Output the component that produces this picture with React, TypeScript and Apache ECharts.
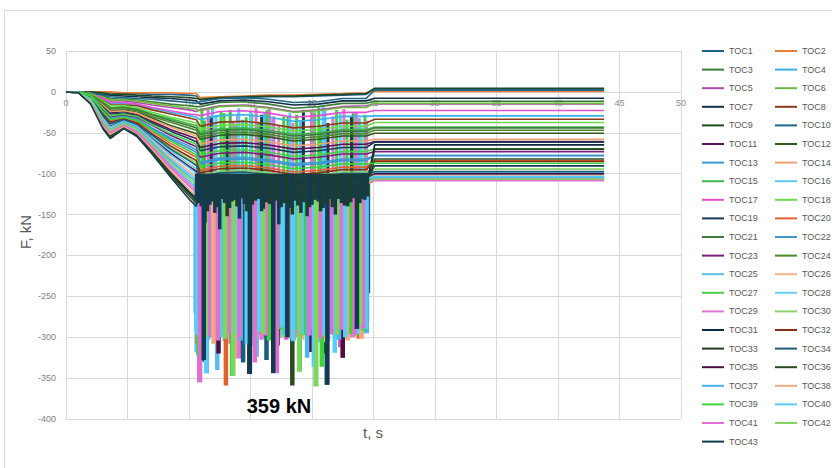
import React, { useEffect, useRef } from "react";
import * as echarts from "echarts";

const seriesNames = [
  "TOC1", "TOC2", "TOC3", "TOC4", "TOC5", "TOC6", "TOC7", "TOC8", "TOC9", "TOC10",
  "TOC11", "TOC12", "TOC13", "TOC14", "TOC15", "TOC16", "TOC17", "TOC18", "TOC19", "TOC20",
  "TOC21", "TOC22", "TOC23", "TOC24", "TOC25", "TOC26", "TOC27", "TOC28", "TOC29", "TOC30",
  "TOC31", "TOC32", "TOC33", "TOC34", "TOC35", "TOC36", "TOC37", "TOC38", "TOC39", "TOC40",
  "TOC41", "TOC42", "TOC43",
];

const seriesColors = [
  "#1f5f8b", "#ed7d31", "#3a7d3a", "#3aaee6", "#b04cb0", "#6fb840", "#12304a", "#8b3a15", "#1d4a22", "#1e6888",
  "#5e1256", "#2d5a1e", "#3c9ad6", "#f0a070", "#3cba48", "#5ccaf4", "#e050d0", "#6adc4a", "#1b3b5a", "#e2622a",
  "#3e7a3e", "#3e96cc", "#7a1e78", "#4a8a2a", "#5abde8", "#f6b08c", "#48d048", "#6ad0f6", "#de78d4", "#8ad46a",
  "#0f2c3e", "#8a2f10", "#1f3d1f", "#1c5c78", "#4a1040", "#2a4a22", "#4ab6e8", "#f4a880", "#3ed23e", "#58cdf8",
  "#e070d0", "#80d460", "#123a50",
];

// time stamps (s)
const rampTimes = [0, 1, 2, 3, 3.6, 4.7, 5.8, 7, 8.5, 10, 10.6];
const plateauTimes = [10.9, 12.5, 14.5, 16.5, 18.5, 20.5, 22.5, 24.4];
const finalTimes = [25.1, 43.75];

// F (kN) during loading ramp, one row per TOC
const rampValues = [
  [0, 0, 0, -1, -1, -2, -2, -3, -3, -4, -5],
  [0, 0, 0, 0, 0, -1, -1, -1, -1, -2, -2],
  [0, 0, -1, -5, -8, -9, -10, -12, -15, -17, -18],
  [0, 0, -2, -9, -14, -14, -16, -20, -25, -29, -31],
  [0, 0, -1, -7, -11, -11, -13, -16, -19, -22, -24],
  [0, 0, -1, -6, -10, -10, -11, -14, -17, -20, -21],
  [0, 0, -1, -3, -4, -5, -6, -7, -8, -10, -11],
  [0, 0, -2, -10, -16, -16, -17, -22, -27, -32, -34],
  [0, 0, 0, -1, -3, -3, -4, -5, -6, -7, -8],
  [0, 0, -1, -4, -6, -7, -8, -9, -11, -13, -14],
  [0, 0, -4, -17, -26, -24, -28, -36, -46, -54, -57],
  [0, 0, -3, -15, -23, -22, -25, -32, -41, -48, -51],
  [0, 0, -5, -22, -31, -29, -33, -44, -56, -66, -71],
  [0, 0, -4, -16, -24, -23, -26, -34, -43, -51, -54],
  [0, 0, -3, -12, -19, -18, -21, -27, -33, -39, -41],
  [0, -1, -9, -34, -45, -38, -45, -61, -82, -100, -107],
  [0, 0, -2, -8, -13, -13, -15, -19, -23, -27, -28],
  [0, 0, -2, -11, -17, -17, -19, -25, -31, -36, -38],
  [0, 0, -4, -19, -27, -26, -29, -38, -48, -57, -61],
  [0, 0, -6, -25, -35, -31, -36, -48, -63, -75, -80],
  [0, 0, -3, -13, -20, -19, -22, -28, -35, -41, -44],
  [0, 0, -5, -23, -33, -30, -34, -45, -58, -69, -74],
  [0, 0, -5, -21, -30, -28, -31, -41, -53, -63, -67],
  [0, 0, -3, -14, -21, -21, -23, -30, -37, -44, -47],
  [0, -1, -10, -37, -48, -40, -48, -66, -89, -109, -117],
  [0, -1, -9, -33, -44, -37, -44, -59, -80, -97, -104],
  [0, 0, -4, -20, -29, -27, -30, -40, -51, -60, -64],
  [0, 0, -7, -30, -41, -35, -40, -55, -72, -88, -94],
  [0, -1, -11, -38, -49, -40, -49, -67, -91, -112, -120],
  [0, 0, -7, -28, -38, -34, -39, -52, -68, -82, -87],
  [0, -1, -12, -42, -53, -42, -52, -72, -98, -122, -130],
  [0, 0, -6, -27, -37, -33, -38, -51, -66, -79, -84],
  [0, -1, -13, -43, -54, -43, -53, -73, -100, -124, -133],
  [0, 0, -7, -29, -39, -34, -40, -53, -70, -84, -90],
  [0, -1, -8, -31, -42, -36, -42, -57, -75, -91, -97],
  [0, -1, -13, -44, -55, -43, -54, -75, -102, -127, -136],
  [0, -1, -10, -35, -46, -38, -45, -62, -84, -103, -110],
  [0, -1, -12, -41, -52, -42, -51, -70, -96, -119, -127],
  [0, 0, -5, -24, -34, -31, -35, -47, -60, -72, -77],
  [0, -1, -8, -32, -43, -36, -42, -58, -77, -93, -100],
  [0, -1, -11, -39, -50, -41, -50, -68, -93, -115, -123],
  [0, -1, -10, -36, -47, -39, -46, -64, -86, -106, -113],
  [0, -1, -15, -45, -57, -45, -55, -76, -104, -131, -140],
];

// F (kN) base level during the oscillating phase
const plateauValues = [
  [-10, -8, -7, -6, -6, -5, -4, -3],
  [-7, -6, -5, -4, -4, -3, -2, -1],
  [-18, -13, -12, -15, -20, -18, -14, -14],
  [-34, -29, -28, -31, -36, -34, -30, -30],
  [-22, -17, -16, -19, -24, -22, -18, -17],
  [-23, -18, -17, -20, -25, -23, -19, -19],
  [-15, -11, -10, -12, -16, -15, -11, -11],
  [-42, -37, -36, -39, -44, -42, -38, -38],
  [-9, -7, -6, -5, -5, -4, -3, -2],
  [-12, -8, -7, -9, -13, -12, -8, -8],
  [-68, -63, -62, -65, -70, -68, -64, -64],
  [-58, -53, -52, -55, -60, -58, -54, -54],
  [-86, -81, -80, -83, -88, -86, -82, -82],
  [-64, -59, -58, -61, -66, -64, -60, -60],
  [-50, -45, -44, -47, -52, -50, -46, -46],
  [-112, -107, -106, -109, -114, -112, -108, -108],
  [-29, -24, -23, -26, -31, -29, -25, -25],
  [-46, -41, -40, -43, -48, -46, -42, -42],
  [-72, -67, -66, -69, -74, -72, -68, -68],
  [-96, -91, -90, -93, -98, -96, -92, -92],
  [-52, -47, -46, -49, -54, -52, -48, -48],
  [-88, -83, -82, -85, -90, -88, -84, -84],
  [-80, -75, -74, -77, -82, -80, -76, -76],
  [-55, -50, -49, -52, -57, -55, -51, -51],
  [-114, -109, -108, -111, -116, -114, -110, -110],
  [-110, -105, -104, -107, -112, -110, -106, -106],
  [-77, -72, -71, -74, -79, -77, -73, -73],
  [-106, -101, -100, -103, -108, -106, -102, -102],
  [-116, -111, -110, -113, -118, -116, -112, -112],
  [-102, -97, -96, -99, -104, -102, -98, -98],
  [-120, -115, -114, -117, -122, -120, -116, -116],
  [-99, -94, -93, -96, -101, -99, -95, -95],
  [-124, -119, -118, -121, -126, -124, -120, -120],
  [-104, -99, -98, -101, -106, -104, -100, -100],
  [-108, -103, -102, -105, -110, -108, -104, -104],
  [-128, -123, -122, -125, -130, -128, -124, -124],
  [-113, -108, -107, -110, -115, -113, -109, -109],
  [-118, -113, -112, -115, -120, -118, -114, -114],
  [-92, -87, -86, -89, -94, -92, -88, -88],
  [-110, -105, -104, -107, -112, -110, -106, -106],
  [-117, -112, -111, -114, -119, -117, -113, -113],
  [-115, -110, -109, -112, -117, -115, -111, -111],
  [-110, -104, -103, -106, -112, -110, -105, -106],
];

// F (kN) residual after unloading
const finalValues = [
  2.8, 0.5, -11.4, -29.3, -14.7, -14, -7.7, -33.4, 4.5, 2.0,
  -60.8, -50.5, -77.6, -57.9, -43, -105, -22.8, -37.5, -61.5, -84.4,
  -44, -78, -73, -47, -106, -103, -69.7, -99, -107, -94.5,
  -64.8, -85, -70, -97.5, -100.3, -82, -104, -108, -87.2, -103.5,
  -108.5, -106.5, -90.5,
];

// downward peaks [t, F] during the oscillating phase
const peaksTOC14 = [[11.02, -290], [12.75, -298], [14.35, -292], [16.15, -300], [17.85, -288], [19.55, -296], [21.35, -290], [23.05, -299], [24.25, -287]];
const peaksTOC15 = [[11.65, -294], [13.45, -290], [15.25, -298], [17.05, -292], [18.65, -295], [20.45, -288], [22.15, -296], [23.75, -291]];
const peaksTOC16 = [[10.62, -318], [11.7, -296], [12.9, -305], [13.8, -288], [15.1, -310], [16.0, -292], [17.3, -301], [18.2, -285], [19.4, -298], [20.7, -306], [21.6, -290], [22.8, -297], [23.9, -283], [24.5, -246]];
const peaksTOC17 = [[10.85, -355], [11.9, -300], [12.6, -292], [13.4, -308], [14.3, -326], [15.6, -297], [16.6, -289], [17.9, -303], [18.8, -294], [19.9, -300], [21.0, -288], [22.3, -312], [23.5, -290], [24.2, -276]];
const peaksTOC20 = [[10.7, -309], [13.0, -359], [16.9, -300], [23.8, -302]];
const peaksTOC25 = [[10.95, -300], [11.45, -344], [12.3, -340], [13.2, -295], [14.0, -302], [14.8, -290], [15.5, -324], [16.4, -296], [17.6, -298], [18.5, -304], [19.7, -293], [20.4, -299], [21.3, -305], [22.1, -291], [23.1, -296], [24.3, -295]];
const peaksTOC26 = [[11.1, -302], [12.1, -291], [13.6, -305], [14.6, -300], [15.8, -294], [17.1, -298], [18.0, -289], [19.2, -303], [20.2, -297], [21.8, -292], [22.6, -300], [23.4, -299], [24.05, -302]];
const peaksTOC27 = [[10.75, -322], [11.8, -299], [12.7, -290], [13.5, -347], [14.5, -296], [15.3, -287], [16.2, -300], [17.4, -293], [18.9, -296], [19.0, -342], [20.3, -360], [21.5, -294], [22.4, -288], [23.6, -298], [24.4, -280]];
const peaksTOC28 = [[10.58, -292], [11.85, -297], [13.05, -291], [14.25, -299], [15.45, -294], [16.7, -290], [17.95, -297], [19.05, -292], [20.05, -298], [21.25, -293], [22.45, -295], [23.55, -289], [24.48, -282]];
const peaksTOC29 = [[11.3, -303], [12.2, -298], [13.1, -290], [14.0, -326], [14.9, -299], [15.9, -303], [16.8, -292], [17.7, -296], [18.6, -300], [19.5, -288], [20.6, -302], [21.7, -297], [22.5, -325], [23.3, -300]];
const peaksTOC30 = [[11.5, -291], [13.35, -296], [15.55, -292], [17.65, -300], [19.75, -294], [21.95, -290], [23.85, -296]];
const peaksTOC34 = [[11.05, -330], [14.4, -331], [16.3, -328], [21.2, -358], [24.55, -246]];
const peaksTOC35 = [[12.4, -320], [17.2, -310], [19.9, -318], [22.5, -325]];
const peaksTOC36 = [[11.25, -328], [14.9, -345], [18.4, -359], [20.9, -320], [24.1, -244]];
const peaksTOC37 = [[10.55, -270], [11.55, -303], [12.45, -297], [13.3, -292], [14.2, -304], [15.2, -300], [16.1, -289], [17.0, -306], [17.8, -297], [18.7, -291], [19.6, -325], [20.5, -300], [21.4, -294], [22.2, -303], [23.0, -291], [23.8, -289], [24.45, -295]];
const peaksTOC38 = [[10.8, -298], [12.0, -308], [13.7, -326], [15.4, -300], [16.7, -296], [18.3, -302], [20.0, -291], [21.1, -306], [22.9, -304], [24.0, -301]];
const peaksTOC39 = [[11.15, -309], [12.8, -295], [13.55, -347], [15.0, -293], [16.5, -304], [17.5, -290], [18.1, -300], [19.3, -297], [20.8, -336], [21.9, -289], [23.2, -296], [24.2, -292]];
const peaksTOC40 = [[10.65, -297], [11.4, -344], [12.55, -300], [13.9, -296], [14.7, -309], [15.7, -293], [16.9, -301], [17.55, -288], [18.45, -305], [19.15, -296], [20.15, -336], [20.95, -298], [21.85, -319], [22.7, -300], [23.7, -296], [24.35, -290]];
const peaksTOC41 = [[10.9, -355], [11.6, -299], [12.35, -304], [13.25, -296], [14.1, -300], [15.35, -331], [16.25, -298], [17.15, -344], [18.05, -300], [18.95, -293], [19.8, -298], [20.65, -302], [21.55, -296], [22.35, -291], [23.45, -297], [24.15, -289]];
const peaksTOC42 = [[11.35, -300], [12.95, -302], [13.6, -347], [16.05, -296], [18.95, -342], [20.35, -360], [22.05, -297], [23.9, -285]];
const peaksTOC43 = [[11.2, -328], [14.95, -345], [16.85, -344], [18.0, -300], [21.25, -358], [23.65, -290]];

// upward peaks [t, F]
const upPeaksTOC15 = [[11.25, -35], [13.35, -22], [15.65, -38], [18.05, -30], [20.75, -42], [23.35, -26]];
const upPeaksTOC25 = [[11.9, -18], [14.35, -34], [16.15, -25], [19.05, -36], [21.05, -20], [23.85, -32]];
const upPeaksTOC27 = [[12.6, -24], [15.1, -26], [17.7, -30], [20.2, -25], [22.0, -22], [24.3, -28]];
const upPeaksTOC29 = [[12.0, -40], [13.95, -27], [16.55, -20], [18.45, -38], [20.05, -30], [22.6, -21], [24.45, -35]];
const upPeaksTOC39 = [[11.05, -20], [12.85, -26], [13.75, -40], [14.65, -31], [16.35, -22], [18.75, -28], [20.55, -19], [22.85, -34]];
const upPeaksTOC40 = [[12.2, -28], [14.05, -20], [15.0, -24], [16.8, -33], [18.2, -26], [20.9, -18], [22.3, -27], [24.0, -40]];
const upPeaksTOC41 = [[11.55, -22], [13.6, -36], [15.45, -20], [16.9, -30], [17.3, -41], [19.95, -24], [21.7, -30], [23.6, -25]];
const upPeaksTOC43 = [[11.8, -30], [13.1, -45], [15.9, -28], [19.3, -22], [21.3, -38], [23.2, -30]];

// dense noise of the lowest (dark) gauges [t, F]
const noiseTOC43 = [[10.62, -132], [11.0, -140], [11.3, -160], [11.7, -138], [12.1, -148], [12.5, -168], [12.9, -136], [13.3, -142], [13.7, -132], [14.1, -155], [14.5, -137], [14.9, -140], [15.4, -133], [15.9, -146], [16.3, -135], [16.8, -140], [17.3, -162], [17.7, -136], [18.2, -142], [18.6, -133], [19.1, -148], [19.6, -152], [20.0, -138], [20.5, -134], [20.9, -142], [21.4, -131], [21.9, -150], [22.4, -136], [22.9, -140], [23.4, -130], [23.9, -136], [24.3, -132]];
const noiseTOC33 = [[10.8, -136], [11.15, -130], [11.5, -146], [11.9, -134], [12.3, -141], [12.7, -131], [13.1, -152], [13.5, -134], [13.9, -140], [14.3, -130], [14.7, -146], [15.15, -138], [15.65, -131], [16.05, -143], [16.55, -137], [17.05, -133], [17.5, -141], [17.95, -136], [18.4, -150], [18.85, -139], [19.35, -135], [19.8, -141], [20.25, -132], [20.7, -146], [21.15, -137], [21.65, -141], [22.15, -131], [22.65, -139], [23.15, -135], [23.65, -143], [24.1, -131], [24.5, -128]];

const peakOrigin = -110;
const upPeakOrigin = -100;
const noiseOrigin = -100;

const downPeakSets: [number, number[][]][] = [
  [13, peaksTOC14], [14, peaksTOC15], [15, peaksTOC16], [16, peaksTOC17], [19, peaksTOC20],
  [24, peaksTOC25], [25, peaksTOC26], [26, peaksTOC27], [27, peaksTOC28], [28, peaksTOC29],
  [29, peaksTOC30], [33, peaksTOC34], [34, peaksTOC35], [35, peaksTOC36], [36, peaksTOC37],
  [37, peaksTOC38], [38, peaksTOC39], [39, peaksTOC40], [40, peaksTOC41], [41, peaksTOC42],
  [42, peaksTOC43],
];
const upPeakSets: [number, number[][]][] = [
  [14, upPeaksTOC15], [24, upPeaksTOC25], [26, upPeaksTOC27], [28, upPeaksTOC29],
  [38, upPeaksTOC39], [39, upPeaksTOC40], [40, upPeaksTOC41], [42, upPeaksTOC43],
];
const noiseSets: [number, number[][]][] = [[32, noiseTOC33], [42, noiseTOC43]];

function segSeries(points: number[][], origin: number, color: string, width: number, z: number) {
  return {
    type: "custom",
    silent: true,
    z,
    clip: true,
    data: points,
    encode: { x: 0, y: 1 },
    renderItem: (_p: any, api: any) => {
      const a = api.coord([api.value(0), origin]);
      const b = api.coord([api.value(0), api.value(1)]);
      return {
        type: "line",
        shape: { x1: a[0], y1: a[1], x2: b[0], y2: b[1] },
        style: { stroke: color, lineWidth: width },
      };
    },
  };
}

export default function App() {
  const ref = useRef<HTMLDivElement>(null);
  useEffect(() => {
    if (!ref.current) return;
    const chart = echarts.init(ref.current, undefined, { renderer: "svg" });

    const lineSeries = seriesNames.map((name, i) => {
      const data: number[][] = [];
      rampTimes.forEach((t, k) => data.push([t, rampValues[i][k]]));
      plateauTimes.forEach((t, k) => data.push([t, plateauValues[i][k]]));
      finalTimes.forEach((t) => data.push([t, finalValues[i]]));
      return {
        name,
        type: "line",
        data,
        symbol: "none",
        showSymbol: false,
        z: 2,
        lineStyle: { color: seriesColors[i], width: 1.6 },
        itemStyle: { color: seriesColors[i] },
        emphasis: { disabled: true },
      };
    });

    const extra: any[] = [];
    upPeakSets.forEach(([i, pts]) => extra.push(segSeries(pts, upPeakOrigin, seriesColors[i], 3, 1)));
    downPeakSets.forEach(([i, pts]) => extra.push(segSeries(pts, peakOrigin, seriesColors[i], 4.5, 1)));
    noiseSets.forEach(([i, pts]) => extra.push(segSeries(pts, noiseOrigin, seriesColors[i], 3.5, 3)));

    const font = "Liberation Sans, Arial, sans-serif";
    const legendBase = {
      orient: "vertical",
      top: 39,
      icon: "rect",
      itemWidth: 22,
      itemHeight: 2,
      itemGap: 4.6,
      selectedMode: false,
      textStyle: { color: "#595959", fontSize: 9, fontFamily: font, lineHeight: 14 },
    };

    chart.setOption({
      animation: false,
      grid: { left: 66, right: 151, top: 51, bottom: 49 },
      xAxis: {
        type: "value",
        min: 0,
        max: 50,
        interval: 5,
        position: "bottom",
        offset: -327,
        axisLine: { show: true, onZero: false, lineStyle: { color: "#d9d9d9" } },
        axisTick: { show: false },
        axisLabel: { color: "#8c8c8c", fontSize: 9, fontFamily: font, margin: 6 },
        splitLine: { show: true, lineStyle: { color: "#d9d9d9", width: 1 } },
      },
      yAxis: {
        type: "value",
        min: -400,
        max: 50,
        interval: 50,
        axisLine: { show: false },
        axisTick: { show: false },
        axisLabel: { color: "#7f7f7f", fontSize: 9, fontFamily: font, margin: 10 },
        splitLine: { show: true, lineStyle: { color: "#d9d9d9", width: 1 } },
      },
      legend: [
        { ...legendBase, left: 697, data: seriesNames.filter((_, i) => i % 2 === 0) },
        { ...legendBase, left: 770, data: seriesNames.filter((_, i) => i % 2 === 1) },
      ],
      graphic: [
        {
          type: "rect",
          silent: true,
          shape: { x: 4.5, y: 10.5, width: 840, height: 480 },
          style: { fill: "none", stroke: "#d9d9d9", lineWidth: 1 },
        },
        {
          type: "text",
          silent: true,
          x: 25,
          y: 232,
          rotation: Math.PI / 2,
          style: {
            text: "F, kN",
            fill: "#595959",
            font: `15px ${font}`,
            align: "center",
            verticalAlign: "middle",
            textAlign: "center",
            textVerticalAlign: "middle",
          },
        },
        {
          type: "text",
          silent: true,
          x: 373,
          y: 432,
          style: {
            text: "t, s",
            fill: "#595959",
            font: `15px ${font}`,
            align: "center",
            verticalAlign: "middle",
            textAlign: "center",
            textVerticalAlign: "middle",
          },
        },
        {
          type: "text",
          silent: true,
          z: 100,
          x: 279,
          y: 406,
          style: {
            text: "359 kN",
            fill: "#000000",
            font: `bold 20px ${font}`,
            align: "center",
            verticalAlign: "middle",
            textAlign: "center",
            textVerticalAlign: "middle",
          },
        },
      ],
      series: [...extra, ...lineSeries],
    });
    return () => chart.dispose();
  }, []);

  return (
    <div
      ref={ref}
      style={{ position: "absolute", left: 0, top: 0, width: 832, height: 468, background: "#ffffff" }}
    />
  );
}
